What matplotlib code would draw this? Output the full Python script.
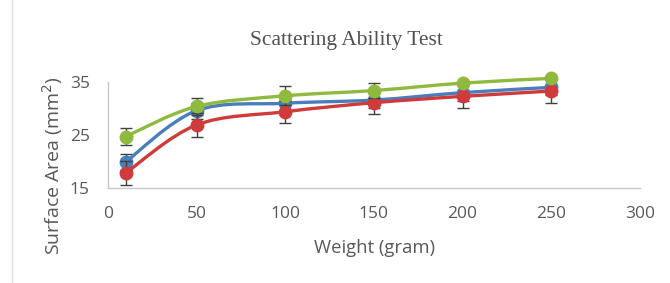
import numpy as np
import matplotlib
matplotlib.use("Agg")
import matplotlib.pyplot as plt
from matplotlib.path import Path
from matplotlib.patches import PathPatch

weights = [10, 50, 100, 150, 200, 250]
blue_vals = [19.9, 29.6, 31.0, 31.6, 33.0, 34.0]
blue_err = [1.5, 1.5, 1.5, 1.5, 1.5, 1.5]
red_vals = [17.8, 26.9, 29.4, 31.1, 32.3, 33.3]
red_err = [2.2, 2.3, 2.1, 2.1, 2.2, 2.3]
green_vals = [24.7, 30.4, 32.4, 33.4, 34.8, 35.7]
green_err = [1.6, 1.6, 1.8, 1.4, 0.4, 0.3]

xticks = [0, 50, 100, 150, 200, 250, 300]
yticks = [15, 25, 35]

fig = plt.figure(figsize=(6.7, 2.83), dpi=100)
ax = fig.add_axes([0.161, 0.336, 0.794, 0.374])

def smooth_path(x, y, t=1/6):
    x = np.asarray(x, float); y = np.asarray(y, float)
    verts = [(x[0], y[0])]; codes = [Path.MOVETO]
    n = len(x)
    for i in range(n - 1):
        x0, y0 = (x[i-1], y[i-1]) if i > 0 else (x[i], y[i])
        x3, y3 = (x[i+2], y[i+2]) if i + 2 < n else (x[i+1], y[i+1])
        c1 = (x[i] + (x[i+1] - x0) * t, y[i] + (y[i+1] - y0) * t)
        c2 = (x[i+1] - (x3 - x[i]) * t, y[i+1] - (y3 - y[i]) * t)
        verts += [c1, c2, (x[i+1], y[i+1])]
        codes += [Path.CURVE4] * 3
    return Path(verts, codes)

series = [
    (blue_vals, blue_err, '#4a7ebb'),
    (red_vals, red_err, '#cf3a3a'),
    (green_vals, green_err, '#8fba3e'),
]
for i, (vals, err, col) in enumerate(series):
    ax.errorbar(weights, vals, yerr=err, fmt='none', ecolor='#404040',
                elinewidth=1.0, capsize=4, capthick=1.0, zorder=2 + i, clip_on=False)
    ax.add_patch(PathPatch(smooth_path(weights, vals), facecolor='none',
                           edgecolor=col, lw=2.4, zorder=2 + i, clip_on=False))
    ax.plot(weights, vals, 'o', color=col, ms=9, zorder=2.5 + i, clip_on=False)

ax.set_xlim(0, 300)
ax.set_ylim(15, 35)
ax.set_xticks(xticks)
ax.set_yticks(yticks)
for s in ['top', 'right']:
    ax.spines[s].set_visible(False)
for s in ['left', 'bottom']:
    ax.spines[s].set_color('#c8c8c8')
    ax.spines[s].set_linewidth(1.0)
ax.tick_params(length=0, labelsize=12.5, labelcolor='#595959', pad=13)
for lab in ax.get_xticklabels() + ax.get_yticklabels():
    lab.set_family('Open Sans')

fig.text(346 / 670, 1 - 40 / 283, 'Scattering Ability Test', ha='center', va='center',
         fontsize=15.5, family='Liberation Serif', color='#505050')
fig.text(375 / 670, 1 - 248 / 283, 'Weight (gram)', ha='center', va='center',
         fontsize=13.3, family='Open Sans', color='#595959')
fig.text(53 / 670, 1 - 166 / 283, 'Surface Area (mm$^2$)', ha='center', va='center',
         rotation=90, fontsize=14, family='Open Sans', color='#595959')
fig.add_artist(plt.Line2D([0.018, 0.018], [0.0, 1.0], color='#e0e0e0', lw=1))

fig.savefig('out.png', dpi=100)
